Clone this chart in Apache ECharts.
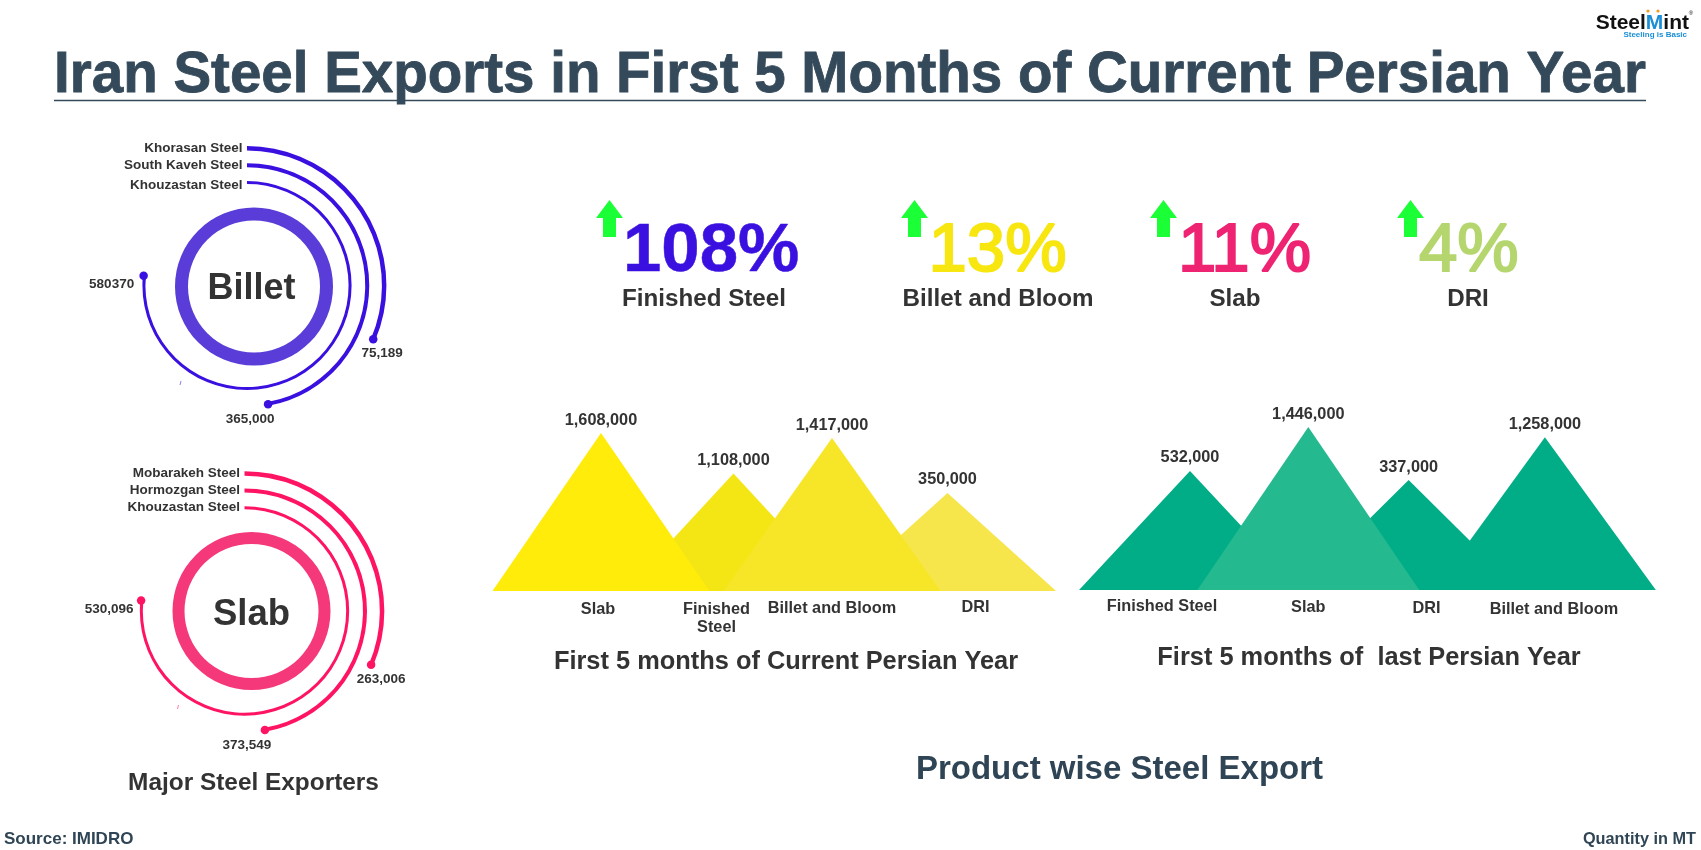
<!DOCTYPE html>
<html><head><meta charset="utf-8">
<style>html,body{margin:0;padding:0;background:#fff}#c{width:1701px;height:850px}</style>
<script src="https://cdn.jsdelivr.net/npm/echarts@6/dist/echarts.min.js"></script>
</head><body><div id="c"></div>
<script>
// ---------- data ----------
const billetCompanies = ['Khouzastan Steel', 'South Kaveh Steel', 'Khorasan Steel'];
const billetLabels    = ['580370', '365,000', '75,189'];
const billetArcPct    = [76.5, 47.2, 31.4];
const slabCompanies   = ['Khouzastan Steel', 'Hormozgan Steel', 'Mobarakeh Steel'];
const slabLabels      = ['530,096', '373,549', '263,006'];
const slabArcPct      = [76.6, 47.3, 31.4];

const kpiPercents = ['108%', '13%', '11%', '4%'];
const kpiNames    = ['Finished Steel', 'Billet and Bloom', 'Slab', 'DRI'];

const currentProducts = ['Slab', 'Finished\nSteel', 'Billet and Bloom', 'DRI'];
const currentValues   = [1608000, 1108000, 1417000, 350000];
const lastProducts    = ['Finished Steel', 'Slab', 'DRI', 'Billet and Bloom'];
const lastValues      = [532000, 1446000, 337000, 1258000];

// ---------- styles / layout ----------
const FONT = '"Liberation Sans", Arial, sans-serif';
const INK = '#333333', SLATE = '#2f4555';
const BLUE = '#3a10e0', PINK = '#ff1464';
const currentFills = ['#ffec0a', '#f4e514', '#f7e627', '#f7e64b'];
const currentOrder = [3, 1, 4, 2];
const currentTrim  = [0.987, 0.811, 0.987, 1];
const currentShift = [0, 0.147, 0, 0];
const lastFills = ['#00ad87', '#24b98f', '#00ad87', '#00ad87'];
const lastOrder = [1, 3, 2, 4];
const lastTrim  = [0.94, 1, 1, 0.968];
const lastShift = [0, 0, -0.152, 0];
const currentAxis = {min: 31400, max: 4296000};
const lastAxis    = {min: 16400, max: 4000000};
// padding that nudges each product label: [top, right, bottom, left]
const currentLabelPad = [[3, 6, 0, 0], [4, 0, 0, 0], [2, 0, 0, 0], [0, 0, 0, 56]];
const lastLabelPad    = [[0, 56, 0, 0], [2, 0, 0, 0], [3.5, 0, 0, 0], [4.5, 0, 0, 18]];

function text(x, y, t, size, fill, align, weight, stroke) {
  return {type: 'text', x, y, silent: true, z: 20,
    style: {text: t, fontFamily: FONT, fontSize: size, fontWeight: weight || 'bold', fill,
      align: align || 'center', verticalAlign: 'middle',
      stroke: stroke ? fill : null, lineWidth: stroke || 0}};
}
function arrow(x) {
  return {type: 'polygon', silent: true, z: 5,
    shape: {points: [[x, 218], [x + 13.5, 200], [x + 27, 218], [x + 20, 218], [x + 20, 237], [x + 7, 237], [x + 7, 218]]},
    style: {fill: '#1aff35'}};
}

const kpiX = [623, 928.5, 1178, 1419];
const kpiFill = [BLUE, '#f8e610', '#ee2472', '#b5d66e'];
const kpiWeight = ['bold', 'normal', 'normal', 'normal'];
const kpiStroke = [0.5, 2, 2, 2];
const kpiNameX = [704, 998, 1235, 1468];
const arrowX = [596, 901, 1150, 1397];

const graphics = [
  text(850, 76, 'Iran Steel Exports in First 5 Months of Current Persian Year', 56.5, '#34495a', 'center', 'bold', 0.8),
  {type: 'line', silent: true, shape: {x1: 54, y1: 100.5, x2: 1646, y2: 100.5}, style: {stroke: '#34495a', lineWidth: 1.5}},
  text(253.5, 783, 'Major Steel Exporters', 24.4, INK),
  text(786, 662, 'First 5 months of Current Persian Year', 25.4, INK),
  text(1369, 658, 'First 5 months of  last Persian Year', 25.4, INK),
  text(1119.5, 770, 'Product wise Steel Export', 33, SLATE),
  text(4, 839, 'Source: IMIDRO', 17, SLATE, 'left'),
  text(1696, 840, 'Quantity in MT', 16.3, SLATE, 'right'),
  {type: 'text', x: 1689, y: 23, silent: true, z: 20, style: {
    text: '{a|Steel}{b|M}{a|int}', align: 'right', verticalAlign: 'middle',
    rich: {a: {fontFamily: FONT, fontSize: 21, fontWeight: 'bold', fill: '#111'},
           b: {fontFamily: FONT, fontSize: 21, fontWeight: 'bold', fill: '#1b8fd6'}}}},
  text(1687, 34.5, 'Steeling is Basic', 8, '#1b8fd6', 'right'),
  text(1691, 13, '®', 6, '#111', 'center', 'normal'),
  {type: 'circle', silent: true, shape: {cx: 1648, cy: 11, r: 1.6}, style: {fill: '#f39c1f'}},
  {type: 'circle', silent: true, shape: {cx: 1658, cy: 11, r: 1.6}, style: {fill: '#f39c1f'}},
  {type: 'line', silent: true, shape: {x1: 180, y1: 385, x2: 181, y2: 381}, style: {stroke: '#8f7fe8', lineWidth: 1}},
  {type: 'line', silent: true, shape: {x1: 177.5, y1: 709, x2: 178.5, y2: 705}, style: {stroke: '#ff7fa8', lineWidth: 1}}
];
kpiPercents.forEach((p, i) => {
  graphics.push(text(kpiX[i], 252, p, 69, kpiFill[i], 'left', kpiWeight[i], kpiStroke[i]));
  graphics.push(text(kpiNameX[i], 299.5, kpiNames[i], 24.2, INK));
  graphics.push(arrow(arrowX[i]));
});

// ---------- radial exporter chart ----------
const widths = [3, 4, 4.5];
const dotOffsets = {
  billet: [[-32, 9], [-18, 15], [9, 14]],
  slab:   [[-32, 9], [-18, 15], [10, 14]]
};
const nameOffsets = {
  billet: [[0, 3.5], [0, 0], [0, 0]],
  slab:   [[0, 0], [0, 0], [0, 0]]
};
function radial(idx, names, labels, pct, color, offs, nameOffs) {
  const arcs = pct.map((v, i) => ({
    type: 'bar', coordinateSystem: 'polar', polarIndex: idx, silent: true,
    barWidth: widths[i], barGap: '-100%', animation: false,
    itemStyle: {color},
    data: pct.map((_, j) => j === i ? v : null)
  }));
  const ends = {
    type: 'scatter', coordinateSystem: 'polar', polarIndex: idx, symbolSize: 8.5, silent: true, animation: false, z: 5,
    itemStyle: {color, opacity: 1},
    data: pct.map((v, i) => ({
      value: [i, v],
      label: {show: true, position: 'inside', offset: offs[i], formatter: labels[i],
        fontFamily: FONT, fontSize: 13.5, fontWeight: 'bold', color: INK}
    }))
  };
  const starts = {
    type: 'scatter', coordinateSystem: 'polar', polarIndex: idx, symbolSize: 1, silent: true, animation: false,
    itemStyle: {color: 'transparent', opacity: 1},
    data: pct.map((v, i) => ({
      value: [i, 0],
      label: {show: true, position: 'left', distance: 4, offset: nameOffs[i], formatter: names[i],
        fontFamily: FONT, fontSize: 13.5, fontWeight: 'bold', color: INK}
    }))
  };
  return [...arcs, ends, starts];
}
function ring(center, radius, name, fill, fontSize, total, offset) {
  return {type: 'pie', center, radius, silent: true, animation: false, z: 1,
    itemStyle: {color: fill},
    label: {show: true, position: 'center', offset, formatter: name, fontFamily: FONT, fontSize, fontWeight: 'bold', color: INK},
    labelLine: {show: false},
    data: [{value: total, name}]};
}

// ---------- mountains ----------
function mountains(gridIndex, values, fills, order, trim, shift, axisMin, spreadPct) {
  return {
    type: 'custom', xAxisIndex: gridIndex, yAxisIndex: gridIndex, clip: false, silent: true, animation: false,
    encode: {x: 0, y: 1},
    data: values.map((v, i) => [i, v]),
    renderItem(params, api) {
      const i = api.value(0), v = api.value(1);
      const band = params.coordSys.width / values.length;
      const apex = api.coord([i, v]), base = api.coord([i, axisMin]);
      const cx = base[0] + shift[i] * band;
      const h = (base[1] - apex[1]) * trim[i];
      const half = band * spreadPct;
      return {
        type: 'polygon',
        z2: order[i],
        shape: {points: [[cx - half, base[1]], [cx, base[1] - h], [cx + half, base[1]]]},
        style: {fill: fills[i]},
        textContent: {z2: 50, style: {text: v.toLocaleString('en-US'), fontFamily: FONT, fontSize: 16.3, fontWeight: 'bold', fill: INK}},
        textConfig: {position: 'top', distance: 5}
      };
    }
  };
}
function productAxis(gridIndex, names, pads) {
  const base = {fontFamily: FONT, fontSize: 16.3, fontWeight: 'bold', color: INK, lineHeight: 20};
  const rich = {plain: {...base}};
  pads.forEach((p, i) => { rich['n' + i] = {...base, padding: p}; });
  return {
    type: 'category', gridIndex, data: names,
    axisLine: {show: false}, axisTick: {show: false}, splitLine: {show: false},
    axisLabel: {
      interval: 0, margin: 7, ...base, rich,
      formatter: (v, i) => v.split('\n').map((line, k) => k === 0 ? '{n' + i + '|' + line + '}' : '{plain|' + line + '}').join('\n')
    }
  };
}
function hiddenLog(gridIndex, range) {
  return {type: 'log', gridIndex, min: range.min, max: range.max, show: false, splitLine: {show: false}};
}

const billetSum = [580370, 365000, 75189].reduce((a, b) => a + b);
const slabSum = [530096, 373549, 263006].reduce((a, b) => a + b);

const polarAngle = i => ({polarIndex: i, type: 'value', min: 0, max: 100, startAngle: 90, clockwise: true, show: false, axisLine: {show: false}, axisLabel: {show: false}, axisTick: {show: false}, splitLine: {show: false}});
const polarRadius = (i, names) => ({polarIndex: i, type: 'category', data: names, show: false, axisLine: {show: false}, axisLabel: {show: false}, axisTick: {show: false}, splitLine: {show: false}});

const option = {
  backgroundColor: '#ffffff',
  animation: false,
  polar: [
    {center: [247, 285.5], radius: [95.5, 145.5]},
    {center: [244.5, 611], radius: [95.5, 146]}
  ],
  angleAxis: [polarAngle(0), polarAngle(1)],
  radiusAxis: [polarRadius(0, billetCompanies), polarRadius(1, slabCompanies)],
  grid: [
    {left: 543.25, width: 462, top: 391, height: 200},
    {left: 1130.85, width: 473.2, top: 390, height: 200}
  ],
  xAxis: [
    productAxis(0, currentProducts, currentLabelPad),
    productAxis(1, lastProducts, lastLabelPad)
  ],
  yAxis: [hiddenLog(0, currentAxis), hiddenLog(1, lastAxis)],
  series: [
    ring([254, 286.5], [66, 79], 'Billet', '#5a3dd8', 36, billetSum, [-2.5, 2.5]),
    ring([251.5, 611], [67, 79], 'Slab', '#f5387a', 36.5, slabSum, [0, 4]),
    ...radial(0, billetCompanies, billetLabels, billetArcPct, BLUE, dotOffsets.billet, nameOffsets.billet),
    ...radial(1, slabCompanies, slabLabels, slabArcPct, PINK, dotOffsets.slab, nameOffsets.slab),
    mountains(0, currentValues, currentFills, currentOrder, currentTrim, currentShift, currentAxis.min, 0.94),
    mountains(1, lastValues, lastFills, lastOrder, lastTrim, lastShift, lastAxis.min, 0.938)
  ],
  graphic: graphics
};
const chart = echarts.init(document.getElementById('c'), null, {renderer: 'canvas'});
chart.setOption(option);
</script></body></html>
